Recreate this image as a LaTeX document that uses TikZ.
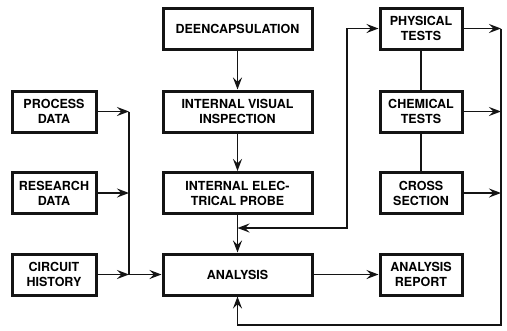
\documentclass[tikz,border=0pt]{standalone}
\usepackage{fontspec}
\setmainfont{TeX Gyre Heros}
\usepackage{tikz}
\usetikzlibrary{arrows.meta, positioning, calc}
\definecolor{ink}{RGB}{20,20,20}
\tikzset{
  box/.style={rectangle, draw=ink, fill=white, line width=3pt,
    minimum width=149pt, minimum height=41pt, align=center,
    font=\fontsize{12.5}{15}\selectfont\bfseries, inner sep=0pt},
  smallbox/.style={box, minimum width=84pt},
  testbox/.style={box, minimum width=82pt},
  arrow/.style={-{Stealth[length=12pt, width=9pt, inset=4.5pt]}, line width=1.8pt, color=ink},
  biarrow/.style={{Stealth[length=12pt, width=9pt, inset=4.5pt]}-{Stealth[length=12pt, width=9pt, inset=4.5pt]}, line width=1.8pt, color=ink},
  line/.style={line width=1.8pt, color=ink}
}
\begin{document}
\begin{tikzpicture}[x=1pt, y=-1pt]
  \useasboundingbox (0,0) rectangle (507,330);

  % Centre column
  \node[box] (deencap) at (237.5,28.5) {DEENCAPSULATION};
  \node[box] (visual) at (237.5,111.5) {INTERNAL VISUAL\\INSPECTION};
  \node[box] (probe) at (237.5,193) {INTERNAL ELEC-\\TRICAL PROBE};
  \node[box] (analysis) at (237.5,274.5) {ANALYSIS};

  % Input data
  \node[smallbox] (process) at (54,111.5) {PROCESS\\DATA};
  \node[smallbox] (research) at (54,193) {RESEARCH\\DATA};
  \node[smallbox] (history) at (54,274.5) {CIRCUIT\\HISTORY};

  % Tests and report
  \node[testbox] (physical) at (421,28.5) {PHYSICAL\\TESTS};
  \node[testbox] (chemical) at (421,111.5) {CHEMICAL\\TESTS};
  \node[testbox] (cross) at (421,193) {CROSS\\SECTION};
  \node[testbox] (report) at (421,274.5) {ANALYSIS\\REPORT};

  % Bus points
  \coordinate (lbustop) at (129,111.5);
  \coordinate (lbusmid) at (129,193);
  \coordinate (lbusbot) at (129,274.5);
  \coordinate (tap) at (237.5,228);
  \coordinate (loopcorner) at (347,228);
  \coordinate (rbustop) at (501,28.5);
  \coordinate (rbusmid) at (501,111.5);
  \coordinate (rbuslow) at (501,193);
  \coordinate (rbusbot) at (501,325);

  % Data into analysis
  \draw[arrow] (process.east) -- (lbustop);
  \draw[arrow] (research.east) -- (lbusmid);
  \draw[arrow] (history.east) -- (lbusbot);
  \draw[line] (lbustop) -- (lbusbot);
  \draw[arrow] (lbusbot) -- (analysis.west);

  % Centre flow
  \draw[arrow] (deencap.south) -- (visual.north);
  \draw[arrow] (visual.south) -- (probe.north);
  \draw[arrow] (probe.south) -- (analysis.north);
  \draw[biarrow] (tap) -- (loopcorner) |- (physical.west);

  % Tests feedback
  \draw[line] (physical.south) -- (chemical.north);
  \draw[line] (chemical.south) -- (cross.north);
  \draw[arrow] (physical.east) -- (rbustop);
  \draw[arrow] (chemical.east) -- (rbusmid);
  \draw[arrow] (cross.east) -- (rbuslow);
  \draw[arrow] (rbustop) -- (rbusbot) -| (analysis.south);
  \draw[arrow] (analysis.east) -- (report.west);
\end{tikzpicture}
\end{document}
